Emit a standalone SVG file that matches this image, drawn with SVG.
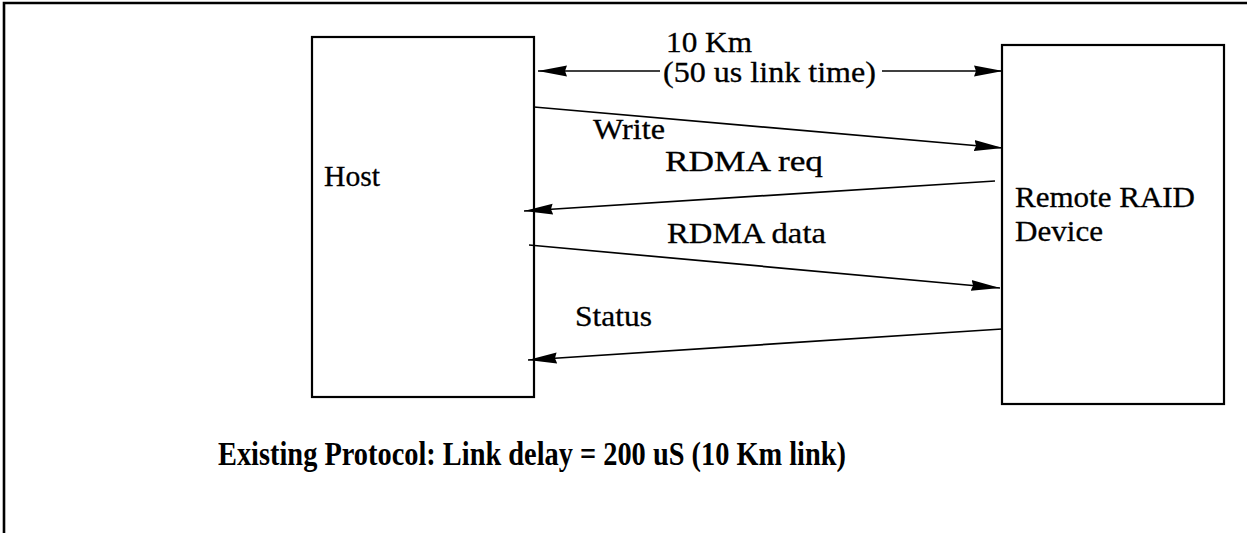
<svg xmlns="http://www.w3.org/2000/svg" width="1247" height="533" viewBox="0 0 1247 533">
  <style>
    .box { fill: #fff; stroke: #000; stroke-width: 2.2; }
    .frame { fill: none; stroke: #000; stroke-width: 2.6; }
    .conn { fill: none; stroke: #000; stroke-width: 1.7; }
    .lbl { font-family: "Liberation Serif", "Times New Roman", serif; font-size: 30px; fill: #000; stroke: #000; stroke-width: 0.3; }
    .cap { font-family: "Liberation Serif", "Times New Roman", serif; font-size: 33px; font-weight: bold; fill: #000; }
  </style>
  <defs>
    <marker id="arr" markerUnits="userSpaceOnUse" markerWidth="30" markerHeight="12" refX="29" refY="6" orient="auto-start-reverse" viewBox="0 0 30 12">
      <path d="M0,0.5 L29,6 L0,11.5 L2,6 z" fill="#000"/>
    </marker>
  </defs>
  <rect width="1247" height="533" fill="#fff"/>
  <path class="frame" d="M4,533 L4,3 L1247,3"/>

  <g id="host">
    <rect class="box" x="312" y="37" width="222" height="360"/>
    <text class="lbl" x="324" y="186" textLength="56" lengthAdjust="spacingAndGlyphs">Host</text>
  </g>
  <g id="remote">
    <rect class="box" x="1002" y="45" width="222" height="359"/>
    <text class="lbl" x="1015" y="207" textLength="180" lengthAdjust="spacingAndGlyphs">Remote RAID</text>
    <text class="lbl" x="1015" y="241" textLength="88" lengthAdjust="spacingAndGlyphs">Device</text>
  </g>

  <g id="connectors">
    <line class="conn" x1="660" y1="71" x2="538" y2="71" marker-end="url(#arr)"/>
    <line class="conn" x1="882" y1="71" x2="1003" y2="71" marker-end="url(#arr)"/>
    <line class="conn" x1="534" y1="107" x2="1003" y2="148" marker-end="url(#arr)"/>
    <line class="conn" x1="995" y1="181" x2="524" y2="211" marker-end="url(#arr)"/>
    <line class="conn" x1="529" y1="245" x2="1000" y2="288" marker-end="url(#arr)"/>
    <line class="conn" x1="1002" y1="329" x2="528" y2="360" marker-end="url(#arr)"/>
  </g>

  <g id="labels">
    <text class="lbl" x="666" y="52" textLength="86" lengthAdjust="spacingAndGlyphs">10 Km</text>
    <text class="lbl" x="663" y="82" textLength="213" lengthAdjust="spacingAndGlyphs">(50 us link time)</text>
    <text class="lbl" x="593" y="139" textLength="72" lengthAdjust="spacingAndGlyphs">Write</text>
    <text class="lbl" x="665" y="171" textLength="158" lengthAdjust="spacingAndGlyphs">RDMA req</text>
    <text class="lbl" x="667" y="243" textLength="159" lengthAdjust="spacingAndGlyphs">RDMA data</text>
    <text class="lbl" x="575" y="326" textLength="77" lengthAdjust="spacingAndGlyphs">Status</text>
    <text class="cap" x="218" y="465" textLength="628" lengthAdjust="spacingAndGlyphs">Existing Protocol: Link delay = 200 uS (10 Km link)</text>
  </g>
</svg>
